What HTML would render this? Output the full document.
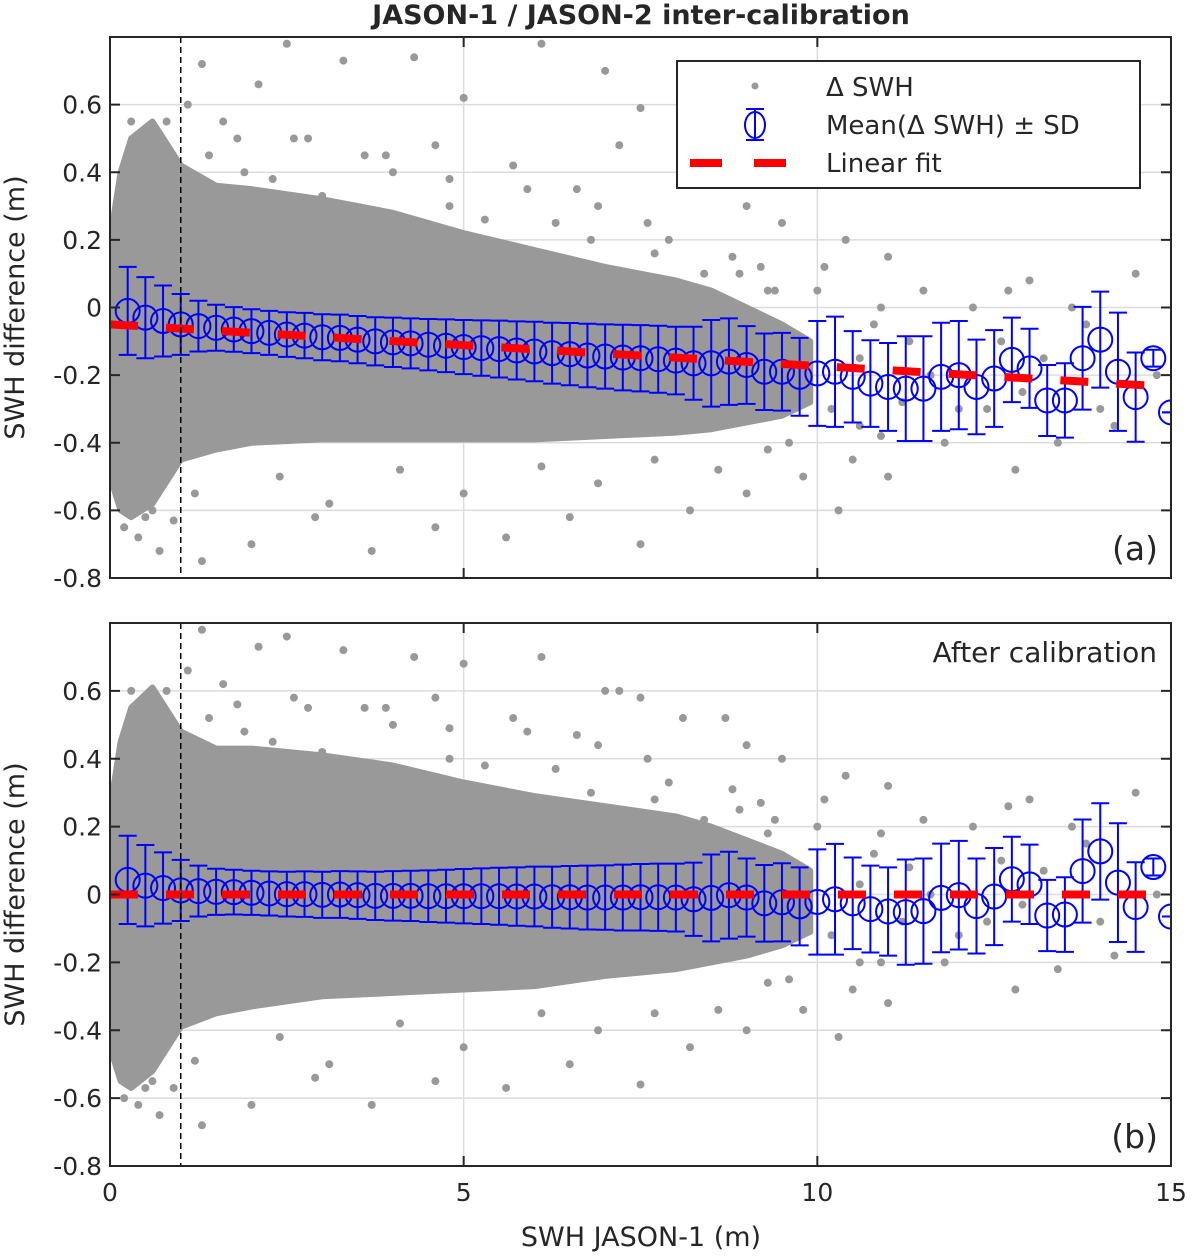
<!DOCTYPE html>
<html><head><meta charset="utf-8"><style>
body{margin:0;background:#fff}
svg text{font-family:"DejaVu Sans","Liberation Sans",sans-serif;fill:#262626}
</style></head><body>
<svg id="chart" width="1192" height="1253" viewBox="0 0 1192 1253" xmlns="http://www.w3.org/2000/svg">
<text x="641" y="24" text-anchor="middle" font-size="27" font-weight="bold" fill="#000">JASON-1 / JASON-2 inter-calibration</text>
<text x="641" y="1246" text-anchor="middle" font-size="27">SWH JASON-1 (m)</text>
</svg>
<script>
const bins=[0.25,0.5,0.75,1,1.25,1.5,1.75,2,2.25,2.5,2.75,3,3.25,3.5,3.75,4,4.25,4.5,4.75,5,5.25,5.5,5.75,6,6.25,6.5,6.75,7,7.25,7.5,7.75,8,8.25,8.5,8.75,9,9.25,9.5,9.75,10,10.25,10.5,10.75,11,11.25,11.5,11.75,12,12.25,12.5,12.75,13,13.25,13.5,13.75,14,14.25,14.5,14.75,15];
const meanA=[-0.01,-0.03,-0.04,-0.05,-0.055,-0.06,-0.065,-0.07,-0.075,-0.08,-0.083,-0.088,-0.09,-0.095,-0.1,-0.103,-0.106,-0.11,-0.113,-0.117,-0.12,-0.123,-0.127,-0.13,-0.135,-0.138,-0.142,-0.145,-0.148,-0.15,-0.153,-0.157,-0.165,-0.165,-0.16,-0.17,-0.19,-0.19,-0.205,-0.195,-0.19,-0.205,-0.225,-0.235,-0.24,-0.24,-0.205,-0.2,-0.235,-0.21,-0.155,-0.18,-0.275,-0.275,-0.15,-0.095,-0.19,-0.265,-0.15,-0.31];
const meanB=[0.043,0.026,0.019,0.012,0.01,0.008,0.007,0.005,0.003,0.001,0.001,-0.001,0,-0.002,-0.004,-0.004,-0.004,-0.005,-0.005,-0.005,-0.005,-0.005,-0.006,-0.006,-0.008,-0.008,-0.009,-0.009,-0.009,-0.008,-0.008,-0.009,-0.014,-0.01,-0.002,-0.009,-0.026,-0.023,-0.035,-0.022,-0.014,-0.026,-0.043,-0.05,-0.052,-0.049,-0.01,-0.002,-0.034,-0.006,0.045,0.03,-0.062,-0.059,0.069,0.127,0.035,-0.037,0.081,-0.065];
const sdVals=[0.13,0.12,0.105,0.09,0.075,0.068,0.066,0.065,0.065,0.066,0.067,0.068,0.069,0.07,0.071,0.073,0.074,0.076,0.078,0.08,0.082,0.084,0.086,0.088,0.09,0.092,0.094,0.095,0.097,0.098,0.099,0.1,0.108,0.128,0.128,0.115,0.113,0.115,0.115,0.155,0.163,0.135,0.128,0.13,0.155,0.155,0.16,0.16,0.14,0.143,0.125,0.117,0.105,0.11,0.152,0.142,0.175,0.132,0.025,0];
const fitA=[-0.05,-0.0123];
const fitB=[0,0];
const envX=[0,0.15,0.3,0.6,1,1.5,2,3,4,5,6,7,8,8.5,9,9.5,9.9];
const upperA=[0.2,0.4,0.5,0.55,0.42,0.36,0.35,0.32,0.28,0.22,0.17,0.12,0.08,0.05,0.0,-0.05,-0.1];
const lowerA=[-0.5,-0.6,-0.62,-0.58,-0.45,-0.42,-0.4,-0.39,-0.39,-0.39,-0.39,-0.38,-0.37,-0.36,-0.34,-0.32,-0.28];
const upperB=[0.25,0.45,0.55,0.61,0.48,0.43,0.43,0.41,0.38,0.33,0.29,0.26,0.23,0.2,0.16,0.12,0.07];
const lowerB=[-0.45,-0.55,-0.57,-0.52,-0.39,-0.35,-0.33,-0.3,-0.29,-0.28,-0.27,-0.24,-0.22,-0.2,-0.18,-0.15,-0.11];
const outX=[1.3,2.1,2.5,3.3,4.3,5.0,6.1,7.0,7.5,8.7,1.6,2.8,3.6,4.6,5.7,6.6,7.2,8.1,9.0,9.5,10.4,11.0,11.5,12.2,13.0,13.8,14.5,10.0,9.2,10.8,12.6,11.8,10.5,11.0,10.3,9.8,9.0,8.2,7.5,6.5,5.6,4.6,3.7,2.9,2.0,1.3,0.7,0.4,0.9,3.1,5.0,6.9,8.6,12.8,14.2,13.4,12.0,10.6,7.9,8.9,6.3,4.0,1.9,1.1,0.8,14.8,13.6,11.3,10.1,9.6,2.3,3.0,4.8,5.3,6.8,7.7,8.4,9.3,0.5,0.6,9.8,10.2,10.6,11.2,11.6,12.4,12.9,13.2,14.0,9.4,10.9,12.7,8.8,7.6,6.9,5.9,4.8,3.9,2.6,1.8,1.4,0.3,0.2,1.2,2.4,4.1,6.1,7.7,9.3,10.9];
const outA=[0.72,0.66,0.78,0.73,0.74,0.62,0.78,0.7,0.59,0.68,0.55,0.5,0.45,0.48,0.42,0.35,0.48,0.4,0.3,0.25,0.2,0.15,0.05,0.0,0.08,-0.05,0.1,0.05,0.12,-0.05,-0.1,-0.4,-0.45,-0.5,-0.6,-0.5,-0.55,-0.6,-0.7,-0.62,-0.68,-0.65,-0.72,-0.62,-0.7,-0.75,-0.72,-0.68,-0.63,-0.58,-0.55,-0.52,-0.48,-0.48,-0.35,-0.4,-0.3,-0.35,0.2,0.1,0.25,0.4,0.4,0.6,0.55,-0.2,0.0,-0.1,0.12,-0.4,0.38,0.33,0.3,0.26,0.2,0.16,0.1,0.05,-0.62,-0.6,-0.1,-0.3,-0.15,-0.28,-0.2,-0.3,-0.25,-0.15,-0.3,0.05,0.0,0.05,0.15,0.25,0.3,0.35,0.38,0.45,0.5,0.5,0.45,0.55,-0.65,-0.55,-0.5,-0.48,-0.47,-0.45,-0.42,-0.38];
const outB=[0.78,0.73,0.76,0.72,0.7,0.68,0.7,0.6,0.58,0.52,0.62,0.55,0.55,0.58,0.52,0.47,0.6,0.52,0.44,0.4,0.35,0.32,0.22,0.2,0.28,0.15,0.3,0.2,0.27,0.12,0.1,-0.2,-0.28,-0.32,-0.42,-0.34,-0.4,-0.45,-0.56,-0.5,-0.57,-0.55,-0.62,-0.54,-0.62,-0.68,-0.65,-0.62,-0.57,-0.5,-0.45,-0.4,-0.34,-0.28,-0.18,-0.22,-0.12,-0.2,0.33,0.25,0.37,0.5,0.48,0.66,0.6,0.0,0.2,0.08,0.28,-0.25,0.45,0.42,0.4,0.38,0.3,0.28,0.22,0.18,-0.57,-0.55,0.07,-0.12,0.03,-0.08,0.0,-0.08,-0.03,0.07,-0.08,0.22,0.18,0.26,0.31,0.4,0.44,0.48,0.49,0.55,0.58,0.56,0.52,0.6,-0.6,-0.49,-0.42,-0.38,-0.35,-0.35,-0.26,-0.2];
const yTicks=[-0.8,-0.6,-0.4,-0.2,0,0.2,0.4,0.6];
const yTickLabels=['-0.8','-0.6','-0.4','-0.2','0','0.2','0.4','0.6'];
const xTicks=[0,5,10,15];
const xTickLabels=['0','5','10','15'];

const NS='http://www.w3.org/2000/svg';
const svg=document.getElementById('chart');
function mk(tag,attrs,parent){const e=document.createElementNS(NS,tag);for(const k in attrs)e.setAttribute(k,attrs[k]);(parent||svg).appendChild(e);return e;}
const X0=110,X1=1171;
const xs=v=>X0+(X1-X0)*v/15;

function panel(top,bot,mean,fit,up,lo,ox,oy,key,label,showX){
  const ys=v=>bot-(bot-top)*(v+0.8)/1.6;
  const g=mk('g',{});
  
  
  const clip=mk('clipPath',{id:'clip'+key},g);
  mk('rect',{x:X0,y:top,width:X1-X0,height:bot-top},clip);
  yTicks.forEach(t=>{const l=mk('line',{x1:X0,x2:X1,y1:ys(t),y2:ys(t),stroke:'#dcdcdc','stroke-width':1.5},g);
    });
  xTicks.forEach(t=>{const l=mk('line',{x1:xs(t),x2:xs(t),y1:top,y2:bot,stroke:'#dcdcdc','stroke-width':1.5},g);
    });
  const cg=mk('g',{'clip-path':'url(#clip'+key+')'},g);
  let pts=envX.map((x,i)=>xs(x)+','+ys(up[i]));
  for(let i=envX.length-1;i>=0;i--)pts.push(xs(envX[i])+','+ys(lo[i]));
  const poly=mk('polygon',{points:pts.join(' '),fill:'#999999',stroke:'#999999','stroke-width':6,'stroke-linejoin':'round'},cg);
  
  
  ox.forEach((x,i)=>{const c=mk('circle',{cx:xs(x),cy:ys(oy[i]),r:4,fill:'#999999'},cg);
    });
  const dl=mk('line',{x1:xs(1),x2:xs(1),y1:top,y2:bot,stroke:'#000','stroke-width':1.5,'stroke-dasharray':'6,4'},g);
  
  bins.forEach((b,i)=>{
    const eg=mk('g',{stroke:'#0000ff','stroke-width':2,fill:'none'},cg);
    
    
    const cx=xs(b),m=mean[i],s=sdVals[i];
    mk('line',{x1:cx,x2:cx,y1:ys(m-s),y2:ys(m+s)},eg);
    mk('line',{x1:cx-9,x2:cx+9,y1:ys(m-s),y2:ys(m-s)},eg);
    mk('line',{x1:cx-9,x2:cx+9,y1:ys(m+s),y2:ys(m+s)},eg);
    mk('circle',{cx:cx,cy:ys(m),r:12},eg);
  });
  const fl=mk('line',{x1:xs(0),x2:xs(15),y1:ys(fit[0]),y2:ys(fit[0]+fit[1]*15),stroke:'#ff0000','stroke-width':8,'stroke-dasharray':'28,28'},cg);
  
  const bx=mk('rect',{x:X0,y:top,width:X1-X0,height:bot-top,fill:'none',stroke:'#262626','stroke-width':2},g);
  
  yTicks.forEach((t,i)=>{mk('line',{x1:X0,x2:X0+10,y1:ys(t),y2:ys(t),stroke:'#262626','stroke-width':2},g);
    mk('line',{x1:X1-10,x2:X1,y1:ys(t),y2:ys(t),stroke:'#262626','stroke-width':2},g);
    const tx=mk('text',{x:X0-8,y:ys(t)+9,'text-anchor':'end','font-size':25},g);tx.textContent=yTickLabels[i];
    });
  xTicks.forEach((t,i)=>{mk('line',{x1:xs(t),x2:xs(t),y1:bot,y2:bot-10,stroke:'#262626','stroke-width':2},g);
    mk('line',{x1:xs(t),x2:xs(t),y1:top,y2:top+10,stroke:'#262626','stroke-width':2},g);
    if(showX){const tx=mk('text',{x:xs(t),y:bot+35,'text-anchor':'middle','font-size':25},g);tx.textContent=xTickLabels[i];
    }});
  const yl=mk('text',{x:0,y:0,'text-anchor':'middle','font-size':27,transform:'translate(24,'+((top+bot)/2)+') rotate(-90)'},g);
  yl.textContent='SWH difference (m)';
  
  const pl=mk('text',{x:1158,y:bot-18,'text-anchor':'end','font-size':33},g);pl.textContent=label;
  
  return g;
}
panel(37,578,meanA,fitA,upperA,lowerA,outX,outA,'a','(a)',false);
panel(623,1166,meanB,fitB,upperB,lowerB,outX,outB,'b','(b)',true);
const ac=mk('text',{x:1157,y:662,'text-anchor':'end','font-size':28});ac.textContent='After calibration';

const lg=mk('g',{});


mk('rect',{x:677,y:61,width:463,height:127,fill:'#fff',stroke:'#262626','stroke-width':2},lg);
const e1=mk('g',{},lg);
mk('circle',{cx:755,cy:86,r:3.5,fill:'#999'},e1);
const t1=mk('text',{x:826,y:96,'font-size':26},e1);t1.textContent='Δ SWH';
const e2=mk('g',{},lg);
const eb=mk('g',{stroke:'#0000ff','stroke-width':2,fill:'none'},e2);
mk('line',{x1:755,x2:755,y1:109,y2:140},eb);mk('line',{x1:746,x2:764,y1:109,y2:109},eb);mk('line',{x1:746,x2:764,y1:140,y2:140},eb);
mk('ellipse',{cx:755,cy:125,rx:10,ry:13},eb);
const t2=mk('text',{x:826,y:134,'font-size':26},e2);t2.textContent='Mean(Δ SWH) ± SD';
const e3=mk('g',{},lg);
mk('line',{x1:690,x2:816,y1:163,y2:163,stroke:'#ff0000','stroke-width':8,'stroke-dasharray':'32,32'},e3);
const t3=mk('text',{x:826,y:172,'font-size':26},e3);t3.textContent='Linear fit';
</script>
</body></html>
